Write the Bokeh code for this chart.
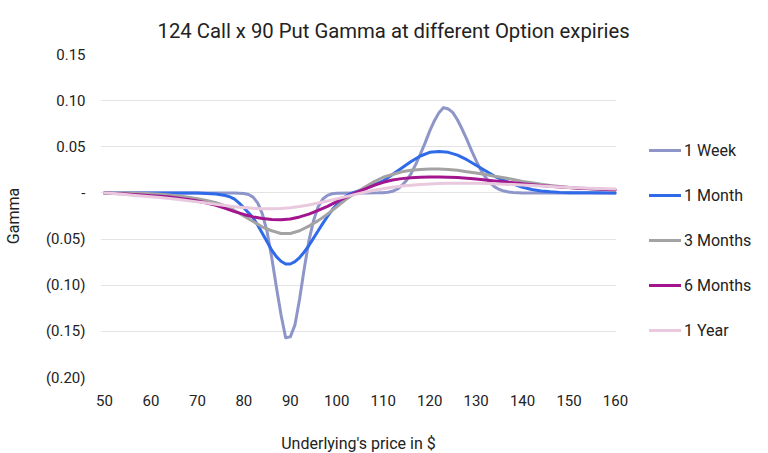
from bokeh.plotting import figure
from bokeh.models import FixedTicker, Legend, LegendItem, Title
from bokeh.embed import file_html
from bokeh.resources import INLINE

# ---- data ----
x_grid = list(range(50, 161, 2))

week_x = [50, 60, 70, 78] + list(range(80, 101)) + [103, 106, 109] + list(range(110, 139)) + [140, 150, 160]
week_y = [0, 0, 0, 0,
          -0.0006, -0.0017, -0.0046, -0.011, -0.023,
          -0.042, -0.070, -0.102, -0.132, -0.157,
          -0.156, -0.143, -0.115, -0.082, -0.052,
          -0.030, -0.015, -0.0066, -0.0026, -0.0009,
          -0.0003,
          0, 0, 0.0001,
          0.0003, 0.0008, 0.0018, 0.004, 0.008,
          0.0135, 0.021, 0.031, 0.042, 0.054,
          0.067, 0.078, 0.087, 0.0925, 0.091,
          0.087, 0.079, 0.069, 0.058, 0.046,
          0.035, 0.025, 0.017, 0.011, 0.0065,
          0.0037, 0.002, 0.001, 0.0004,
          0, 0, 0]

month_x = [50, 60, 66, 70, 72, 74, 76] + list(range(77, 105)) + list(range(106, 151, 2)) + [155, 160]
month_y = [0, 0, 0, -0.0002, -0.0005, -0.0012, -0.0028,
           -0.0043, -0.0068, -0.011, -0.016,
           -0.0215, -0.027, -0.035, -0.044, -0.053,
           -0.062, -0.069, -0.074, -0.077, -0.077,
           -0.0745, -0.070, -0.064, -0.057, -0.049,
           -0.041, -0.033, -0.0255, -0.0185, -0.0125,
           -0.0075, -0.0035, -0.0008, 0.001,
           0.0045, 0.0085, 0.013, 0.020, 0.027,
           0.034, 0.040, 0.044, 0.045, 0.044,
           0.041, 0.036, 0.030, 0.024, 0.018,
           0.0135, 0.0095, 0.0062, 0.0038, 0.0022,
           0.0012, 0.0006, 0.0003,
           0.0001, 0]

months3_y = [0, 0, 0, -0.0002, -0.0004,
             -0.0008, -0.0014, -0.0022, -0.0033, -0.0047,
             -0.0063, -0.0082, -0.0105, -0.014, -0.019,
             -0.025, -0.031, -0.037, -0.041, -0.044,
             -0.044, -0.041, -0.036, -0.030, -0.023,
             -0.015, -0.007, 0.0, 0.006, 0.012,
             0.017, 0.020, 0.023, 0.0245, 0.0255,
             0.026, 0.026, 0.0255, 0.0245, 0.023,
             0.0215, 0.020, 0.018, 0.0165, 0.0145,
             0.0125, 0.011, 0.0095, 0.008, 0.007,
             0.006, 0.005, 0.0045, 0.004, 0.0035,
             0.003]

months6_y = [0, -0.0005, -0.001, -0.0016, -0.0023,
             -0.003, -0.0036, -0.0045, -0.0057, -0.0071,
             -0.0088, -0.011, -0.0135, -0.0168, -0.0203,
             -0.0233, -0.026, -0.0278, -0.0288, -0.029,
             -0.0283, -0.026, -0.023, -0.019, -0.0145,
             -0.0095, -0.0045, 0.0, 0.004, 0.0083,
             0.0115, 0.014, 0.0155, 0.0165, 0.017,
             0.0172, 0.0172, 0.017, 0.0166, 0.016,
             0.015, 0.014, 0.013, 0.012, 0.011,
             0.010, 0.009, 0.008, 0.0072, 0.0065,
             0.0058, 0.0052, 0.0047, 0.0042, 0.0038,
             0.0035]

year1_y = [0, -0.0007, -0.0015, -0.0024, -0.0033,
           -0.0042, -0.005, -0.006, -0.0071, -0.0084,
           -0.0097, -0.011, -0.0124, -0.0137, -0.0149,
           -0.0159, -0.0167, -0.0172, -0.0172, -0.0168,
           -0.016, -0.0147, -0.013, -0.011, -0.0088,
           -0.0064, -0.004, -0.0016, 0.0008, 0.0028,
           0.0046, 0.0061, 0.0074, 0.0084, 0.0092,
           0.0098, 0.0102, 0.0104, 0.0105, 0.0105,
           0.0104, 0.0102, 0.0099, 0.0095, 0.009,
           0.0085, 0.008, 0.0075, 0.007, 0.0065,
           0.006, 0.0056, 0.0052, 0.0048, 0.0045,
           0.0042]

series_names = ["1 Week", "1 Month", "3 Months", "6 Months", "1 Year"]
series_colors = ["#8e95c9", "#2f6ae8", "#a3a3a3", "#a3158f", "#e8c9de"]

x_ticks = list(range(50, 161, 10))
y_ticks = [-0.2, -0.15, -0.1, -0.05, 0, 0.05, 0.1, 0.15]
y_labels = ["(0.20)", "(0.15)", "(0.10)", "(0.05)", "-", "0.05", "0.10", "0.15"]

FONT = "Roboto"
TXT = "#222222"

p = figure(frame_width=516, frame_height=323,
           min_border_left=96, min_border_right=148,
           min_border_top=0, min_border_bottom=68,
           x_range=(49.14, 160.22), y_range=(-0.2, 0.15),
           output_backend="svg", toolbar_location=None)
p.outline_line_color = None
p.background_fill_color = "white"
p.border_fill_color = "white"

title = Title(text="124 Call x 90 Put Gamma at different Option expiries",
              align="left", offset=57, text_font=FONT, text_font_size="20.3px",
              text_font_style="normal", text_color=TXT, standoff=20,
              vertical_align="top", padding=(0, 0, 8, 0))
p.add_layout(title, "above")

p.xgrid.visible = False
p.ygrid.ticker = FixedTicker(ticks=y_ticks)
p.ygrid.grid_line_color = "#e3e3e3"
p.ygrid.grid_line_width = 1

p.xaxis.ticker = FixedTicker(ticks=x_ticks)
p.yaxis.ticker = FixedTicker(ticks=y_ticks)
p.yaxis.major_label_overrides = {t: l for t, l in zip(y_ticks, y_labels)}
for ax in (p.xaxis[0], p.yaxis[0]):
    ax.axis_line_color = None
    ax.major_tick_line_color = None
    ax.minor_tick_line_color = None
    ax.major_label_text_font = FONT
    ax.major_label_text_font_size = "15px"
    ax.major_label_text_color = TXT
    ax.axis_label_text_font = FONT
    ax.axis_label_text_font_size = "16px"
    ax.axis_label_text_font_style = "normal"
    ax.axis_label_text_color = TXT
p.xaxis.major_label_standoff = 11
p.yaxis.major_label_standoff = 9
p.xaxis.axis_label = "Underlying's price in $"
p.yaxis.axis_label = "Gamma"
p.xaxis.axis_label_standoff = 25
p.yaxis.axis_label_standoff = 20

xs = [week_x, month_x, x_grid, x_grid, x_grid]
ys = [week_y, month_y, months3_y, months6_y, year1_y]
items = []
for name, color, xv, yv in zip(series_names, series_colors, xs, ys):
    r = p.line(xv, yv, line_color=color, line_width=3, line_join="round", line_cap="round")
    items.append(LegendItem(label=name, renderers=[r]))

legend = Legend(items=items, location=(33, 37), orientation="vertical",
                glyph_width=32, glyph_height=20, label_height=20, spacing=25,
                label_standoff=3, padding=0, margin=0,
                border_line_color=None, background_fill_alpha=0,
                label_text_font=FONT, label_text_font_size="16px", label_text_color=TXT)
p.add_layout(legend, "right")

open("out.html", "w").write(file_html(p, INLINE))
